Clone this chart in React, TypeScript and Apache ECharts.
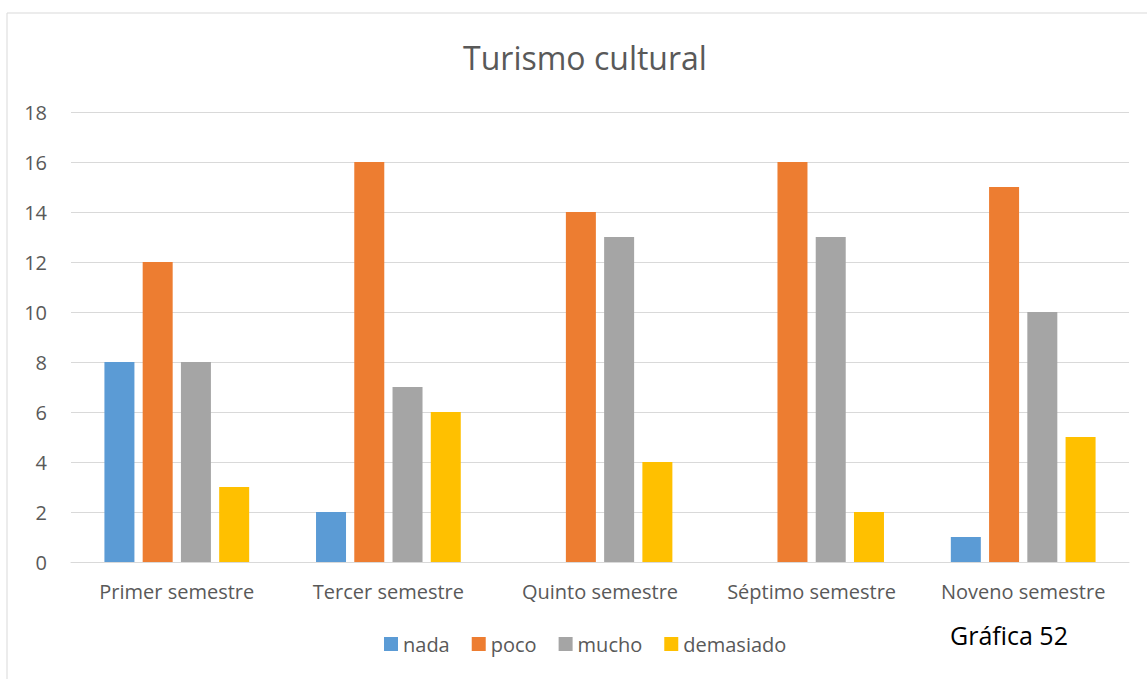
import React, { useEffect, useRef } from "react";
import * as echarts from "echarts";

const categories = ["Primer semestre", "Tercer semestre", "Quinto semestre", "Séptimo semestre", "Noveno semestre"];
const nada = [8, 2, 0, 0, 1];
const poco = [12, 16, 14, 16, 15];
const mucho = [8, 7, 13, 13, 10];
const demasiado = [3, 6, 4, 2, 5];
const seriesNames = ["nada", "poco", "mucho", "demasiado"];
const colors = ["#5B9BD5", "#ED7D31", "#A5A5A5", "#FFC000"];
const titleText = "Turismo cultural";
const noteText = "Gráfica 52";

const FONT = "'Open Sans', 'Noto Sans', sans-serif";

export default function App() {
  const ref = useRef<HTMLDivElement>(null);
  useEffect(() => {
    document.body.style.margin = "0";
    const chart = echarts.init(ref.current!, null, { renderer: "svg" });
    const data = [nada, poco, mucho, demasiado];
    chart.setOption({
      animation: false,
      backgroundColor: "#FFFFFF",
      textStyle: { fontFamily: FONT },
      title: {
        text: titleText,
        left: 580,
        textAlign: "center",
        top: 36,
        textStyle: { fontFamily: FONT, fontSize: 32, fontWeight: "normal", color: "#595959" },
      },
      legend: {
        data: seriesNames,
        bottom: 20,
        left: 379,
        itemWidth: 14,
        itemHeight: 14,
        itemGap: 22,
        icon: "rect",
        textStyle: { fontFamily: FONT, fontSize: 20, color: "#595959" },
      },
      grid: { left: 71, right: 18, top: 112, bottom: 117, containLabel: false },
      xAxis: {
        type: "category",
        data: categories,
        axisLine: { lineStyle: { color: "#D9D9D9", width: 1 } },
        axisTick: { show: false },
        axisLabel: { fontFamily: FONT, fontSize: 20, color: "#595959", margin: 19, interval: 0, hideOverlap: false },
      },
      yAxis: {
        type: "value",
        min: 0,
        max: 18,
        interval: 2,
        axisLine: { show: false },
        axisTick: { show: false },
        axisLabel: { fontFamily: FONT, fontSize: 20, color: "#595959", margin: 24 },
        splitLine: { lineStyle: { color: "#D9D9D9", width: 1 } },
      },
      graphic: [
        {
          type: "rect",
          shape: { x: 7, y: 13, width: 1200, height: 700 },
          style: { fill: "none", stroke: "#D9D9D9", lineWidth: 1 },
          z: -1,
        },
        {
          type: "text",
          left: 950,
          top: 622,
          style: { text: noteText, fontFamily: FONT, fontSize: 25, fill: "#000000" },
        },
      ],
      series: seriesNames.map((name, i) => ({
        name,
        type: "bar",
        data: data[i],
        barWidth: 30,
        barGap: "27.5%",
        itemStyle: { color: colors[i] },
      })),
    });
    return () => chart.dispose();
  }, []);
  return <div ref={ref} style={{ position: "absolute", left: 0, top: 0, width: 1147, height: 679 }} />;
}
